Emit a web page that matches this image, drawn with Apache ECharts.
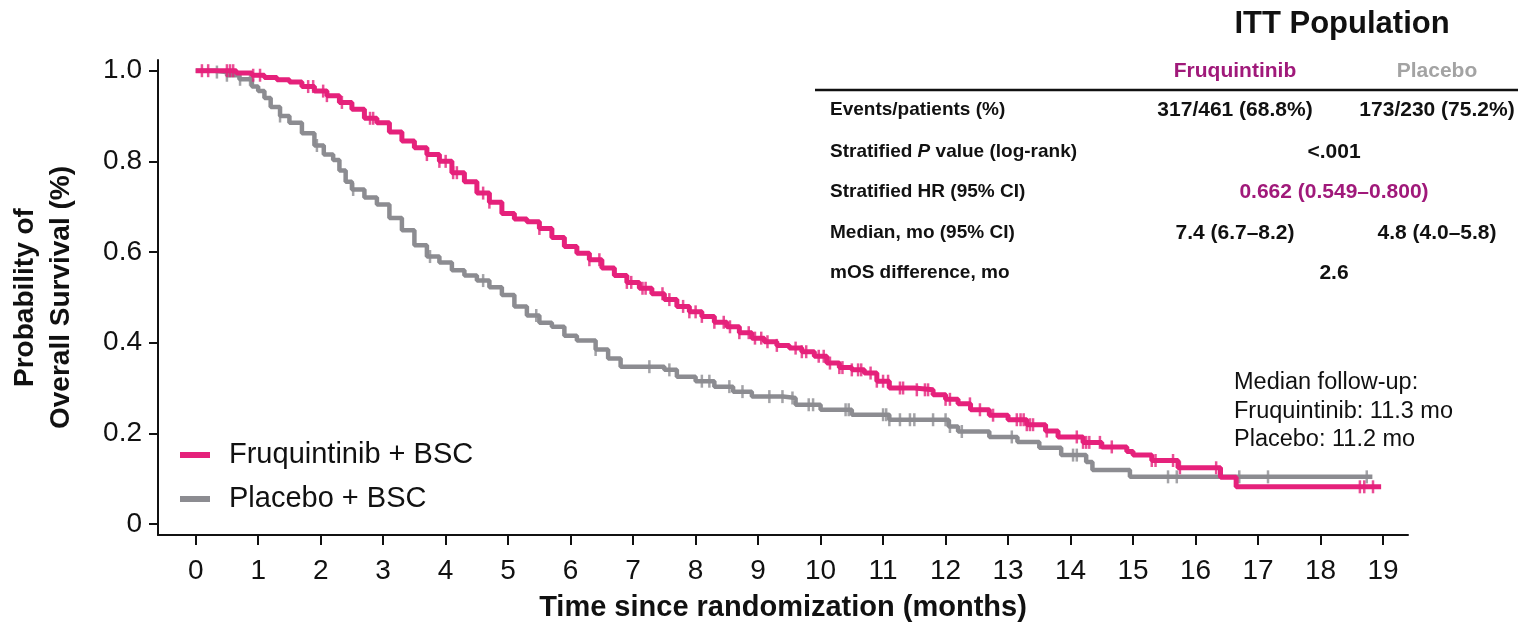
<!DOCTYPE html>
<html>
<head>
<meta charset="utf-8">
<script src="https://cdn.jsdelivr.net/npm/echarts@6/dist/echarts.min.js"></script>
<style>
html,body{margin:0;padding:0;background:#fff;}
#chart{width:1518px;height:625px;}
</style>
</head>
<body>
<div id="chart"></div>
<script>
// ---- Data ----
const fruqTime = [0, 0.65, 0.9, 1.1, 1.3, 1.5, 1.7, 1.9, 2.1, 2.3, 2.5, 2.7, 2.9, 3.1, 3.3, 3.5, 3.7, 3.9, 4.1, 4.3, 4.5, 4.7, 4.9, 5.1, 5.3, 5.5, 5.7, 5.9, 6.1, 6.3, 6.5, 6.7, 6.9, 7.1, 7.3, 7.5, 7.7, 7.9, 8.1, 8.3, 8.5, 8.7, 8.9, 9.1, 9.3, 9.5, 9.7, 9.9, 10.1, 10.3, 10.5, 10.7, 10.9, 11.1, 11.5, 11.8, 12.0, 12.2, 12.4, 12.7, 13.0, 13.3, 13.6, 13.8, 14.2, 14.5, 14.9, 15.0, 15.3, 15.72, 16.4, 16.65, 18.97];
const fruqSurv = [1.0, 0.995, 0.99, 0.985, 0.98, 0.975, 0.965, 0.955, 0.945, 0.93, 0.915, 0.895, 0.885, 0.865, 0.845, 0.83, 0.815, 0.80, 0.775, 0.755, 0.73, 0.71, 0.685, 0.673, 0.667, 0.652, 0.632, 0.612, 0.597, 0.583, 0.565, 0.548, 0.533, 0.52, 0.508, 0.495, 0.48, 0.468, 0.458, 0.445, 0.435, 0.422, 0.41, 0.402, 0.394, 0.388, 0.38, 0.37, 0.355, 0.345, 0.34, 0.333, 0.315, 0.30, 0.296, 0.285, 0.275, 0.265, 0.252, 0.24, 0.23, 0.219, 0.205, 0.192, 0.18, 0.17, 0.16, 0.152, 0.14, 0.124, 0.103, 0.082, 0.082];

const placTime = [0, 0.3, 0.5, 0.7, 0.9, 1.0, 1.1, 1.2, 1.35, 1.5, 1.7, 1.9, 2.05, 2.2, 2.3, 2.4, 2.5, 2.7, 2.9, 3.1, 3.3, 3.5, 3.7, 3.9, 4.1, 4.3, 4.5, 4.7, 4.9, 5.1, 5.3, 5.5, 5.7, 5.9, 6.1, 6.4, 6.6, 6.8, 7.5, 7.7, 8.0, 8.3, 8.6, 8.9, 9.4, 9.6, 10.0, 10.5, 11.1, 12.05, 12.2, 12.7, 13.15, 13.5, 13.85, 14.25, 14.35, 14.95, 18.83];
const placSurv = [1.0, 0.997, 0.99, 0.981, 0.965, 0.955, 0.94, 0.92, 0.90, 0.885, 0.862, 0.835, 0.815, 0.803, 0.78, 0.755, 0.738, 0.72, 0.705, 0.675, 0.648, 0.615, 0.59, 0.577, 0.56, 0.548, 0.537, 0.522, 0.505, 0.48, 0.46, 0.444, 0.435, 0.415, 0.405, 0.385, 0.365, 0.347, 0.34, 0.325, 0.315, 0.303, 0.292, 0.281, 0.278, 0.263, 0.252, 0.241, 0.23, 0.215, 0.204, 0.192, 0.181, 0.168, 0.152, 0.137, 0.119, 0.104, 0.104];

const fruqCensor = [0.1, 0.2, 0.5, 0.55, 0.6, 0.92, 1.03, 1.8, 1.88, 2.04, 2.1, 2.34, 2.79, 2.84, 3.7, 3.9, 4.0, 4.12, 4.18, 4.6, 4.7, 5.5, 6.3, 6.46, 6.9, 6.97, 7.15, 7.2, 7.47, 7.58, 7.8, 7.9, 8.0, 8.1, 8.3, 8.45, 8.55, 8.7, 8.85, 8.95, 9.05, 9.15, 9.3, 9.6, 9.7, 9.77, 9.97, 10.05, 10.15, 10.3, 10.35, 10.5, 10.6, 10.65, 10.8, 10.9, 11.0, 11.08, 11.27, 11.32, 11.54, 11.67, 11.72, 12.0, 12.07, 12.39, 12.55, 12.76, 13.14, 13.2, 13.25, 13.3, 13.35, 13.4, 13.62, 14.1, 14.2, 14.25, 14.3, 14.47, 14.66, 15.3, 15.36, 15.64, 15.75, 16.33, 18.63, 18.7, 18.84];
const placCensor = [0.34, 0.5, 0.71, 0.87, 1.35, 1.94, 2.52, 3.75, 4.6, 5.45, 6.4, 7.26, 7.58, 8.1, 8.22, 8.54, 8.75, 9.18, 9.39, 9.55, 9.81, 9.88, 10.4, 10.45, 11.0, 11.05, 11.1, 11.27, 11.43, 11.5, 11.8, 12.0, 12.07, 12.26, 13.06, 14.04, 14.1, 15.56, 15.7, 16.7, 17.16, 18.74];

const xTicks = [0,1,2,3,4,5,6,7,8,9,10,11,12,13,14,15,16,17,18,19];
const yTicks = [0, 0.2, 0.4, 0.6, 0.8, 1.0];

const seriesNames = ['Fruquintinib + BSC', 'Placebo + BSC'];
const tableTitle = 'ITT Population';
const tableCols = ['Fruquintinib', 'Placebo'];
const tableRows = [
  ['Events/patients (%)', '317/461 (68.8%)', '173/230 (75.2%)'],
  ['Stratified P value (log-rank)', '<.001'],
  ['Stratified HR (95% CI)', '0.662 (0.549–0.800)'],
  ['Median, mo (95% CI)', '7.4 (6.7–8.2)', '4.8 (4.0–5.8)'],
  ['mOS difference, mo', '2.6']
];
const followUp = ['Median follow-up:', 'Fruquintinib: 11.3 mo', 'Placebo: 11.2 mo'];

// ---- helpers ----
function curve(times, surv) { return times.map((t, i) => [t, surv[i]]); }
function stepAt(times, surv, t) {
  let v = surv[0];
  for (let i = 0; i < times.length; i++) { if (times[i] <= t) v = surv[i]; else break; }
  return v;
}
function censorPts(c, times, surv) { return c.map(t => [t, stepAt(times, surv, t)]); }

const PINK = '#E5217B';
const GRAY = '#8C8C91';
const MAGENTA = '#A0197A';
const INK = '#111111';
const FONT = "'Liberation Sans', Arial, Helvetica, sans-serif";

const chart = echarts.init(document.getElementById('chart'), null, {renderer: 'canvas'});

// table graphics
const graphics = [];
graphics.push({type: 'text', style: {text: tableTitle, x: 1342, y: 24, align: 'center', verticalAlign: 'middle', font: 'bold 31px ' + FONT, fill: INK}});
graphics.push({type: 'text', style: {text: tableCols[0], x: 1235, y: 71, align: 'center', verticalAlign: 'middle', font: 'bold 21px ' + FONT, fill: MAGENTA}});
graphics.push({type: 'text', style: {text: tableCols[1], x: 1437, y: 71, align: 'center', verticalAlign: 'middle', font: 'bold 21px ' + FONT, fill: '#A3A3A3'}});
graphics.push({type: 'line', shape: {x1: 815, y1: 90, x2: 1518, y2: 90}, style: {stroke: INK, lineWidth: 2.5}});
const rowY = [110, 152, 192, 233, 273];
tableRows.forEach((r, i) => {
  const y = rowY[i];
  if (i === 1) {
    graphics.push({type: 'text', style: {text: '{a|Stratified }{b|P}{a| value (log-rank)}', x: 830, y: y, align: 'left', verticalAlign: 'middle',
      rich: {a: {font: 'bold 19px ' + FONT, fill: INK}, b: {font: 'italic bold 19px ' + FONT, fill: INK}}}});
  } else {
    graphics.push({type: 'text', style: {text: r[0], x: 830, y: y, align: 'left', verticalAlign: 'middle', font: 'bold 19px ' + FONT, fill: INK}});
  }
  if (r.length === 3) {
    graphics.push({type: 'text', style: {text: r[1], x: 1235, y: y, align: 'center', verticalAlign: 'middle', font: 'bold 21px ' + FONT, fill: INK}});
    graphics.push({type: 'text', style: {text: r[2], x: 1437, y: y, align: 'center', verticalAlign: 'middle', font: 'bold 21px ' + FONT, fill: INK}});
  } else {
    graphics.push({type: 'text', style: {text: r[1], x: 1334, y: y, align: 'center', verticalAlign: 'middle', font: 'bold 21px ' + FONT, fill: i === 2 ? MAGENTA : INK}});
  }
});
followUp.forEach((t, i) => {
  graphics.push({type: 'text', style: {text: t, x: 1234, y: 383 + i * 28.5, align: 'left', verticalAlign: 'middle', font: '23.5px ' + FONT, fill: INK}});
});

const option = {
  animation: false,
  backgroundColor: '#ffffff',
  textStyle: {fontFamily: FONT},
  grid: {left: 158, right: 110, top: 60, bottom: 90, containLabel: false, outerBoundsMode: 'none'},
  legend: {
    data: [
      {name: seriesNames[0], itemStyle: {color: PINK}},
      {name: seriesNames[1], itemStyle: {color: GRAY}}
    ],
    orient: 'vertical', left: 180, top: 439, padding: 0, itemWidth: 30, itemHeight: 6, itemGap: 12,
    icon: 'rect',
    textStyle: {fontSize: 29, color: INK, fontFamily: FONT, padding: [0, 0, 0, 14], lineHeight: 32},
    selectedMode: false
  },
  xAxis: {
    type: 'value', min: -0.603, max: 19.4,
    axisLine: {show: true, onZero: false, lineStyle: {color: INK, width: 2}},
    axisTick: {show: true, customValues: xTicks, length: 10, lineStyle: {color: INK, width: 2}},
    axisLabel: {show: true, customValues: xTicks, fontSize: 28, color: INK, margin: 22, fontFamily: FONT},
    splitLine: {show: false},
    name: 'Time since randomization (months)', nameLocation: 'middle', nameGap: 58,
    nameTextStyle: {fontSize: 29, fontWeight: 'bold', color: INK, fontFamily: FONT}
  },
  yAxis: {
    type: 'value', min: -0.0243, max: 1.0236,
    axisLine: {show: true, onZero: false, lineStyle: {color: INK, width: 2}},
    axisTick: {show: true, customValues: yTicks, length: 9, lineStyle: {color: INK, width: 2}},
    axisLabel: {show: true, customValues: yTicks, fontSize: 28, color: INK, margin: 16, fontFamily: FONT,
      formatter: v => (Math.abs(v) < 1e-9 ? '0' : v.toFixed(1))},
    splitLine: {show: false},
    name: 'Probability of\nOverall Survival (%)', nameLocation: 'middle', nameGap: 79, nameRotate: 90,
    nameTextStyle: {fontSize: 28, fontWeight: 'bold', color: INK, fontFamily: FONT, lineHeight: 36}
  },
  series: [
    {name: seriesNames[1], type: 'line', step: 'end', data: curve(placTime, placSurv), showSymbol: false, symbol: 'none',
      lineStyle: {color: GRAY, width: 4.5}, itemStyle: {color: GRAY}, z: 2},
    {name: 'Placebo censored', type: 'scatter', data: censorPts(placCensor, placTime, placSurv), symbol: 'rect', symbolSize: [2.5, 13],
      itemStyle: {color: GRAY}, z: 3},
    {name: seriesNames[0], type: 'line', step: 'end', data: curve(fruqTime, fruqSurv), showSymbol: false, symbol: 'none',
      lineStyle: {color: PINK, width: 5}, itemStyle: {color: PINK}, z: 4},
    {name: 'Fruquintinib censored', type: 'scatter', data: censorPts(fruqCensor, fruqTime, fruqSurv), symbol: 'rect', symbolSize: [2.5, 13],
      itemStyle: {color: PINK}, z: 5}
  ],
  graphic: graphics
};
chart.setOption(option);
</script>
</body>
</html>
